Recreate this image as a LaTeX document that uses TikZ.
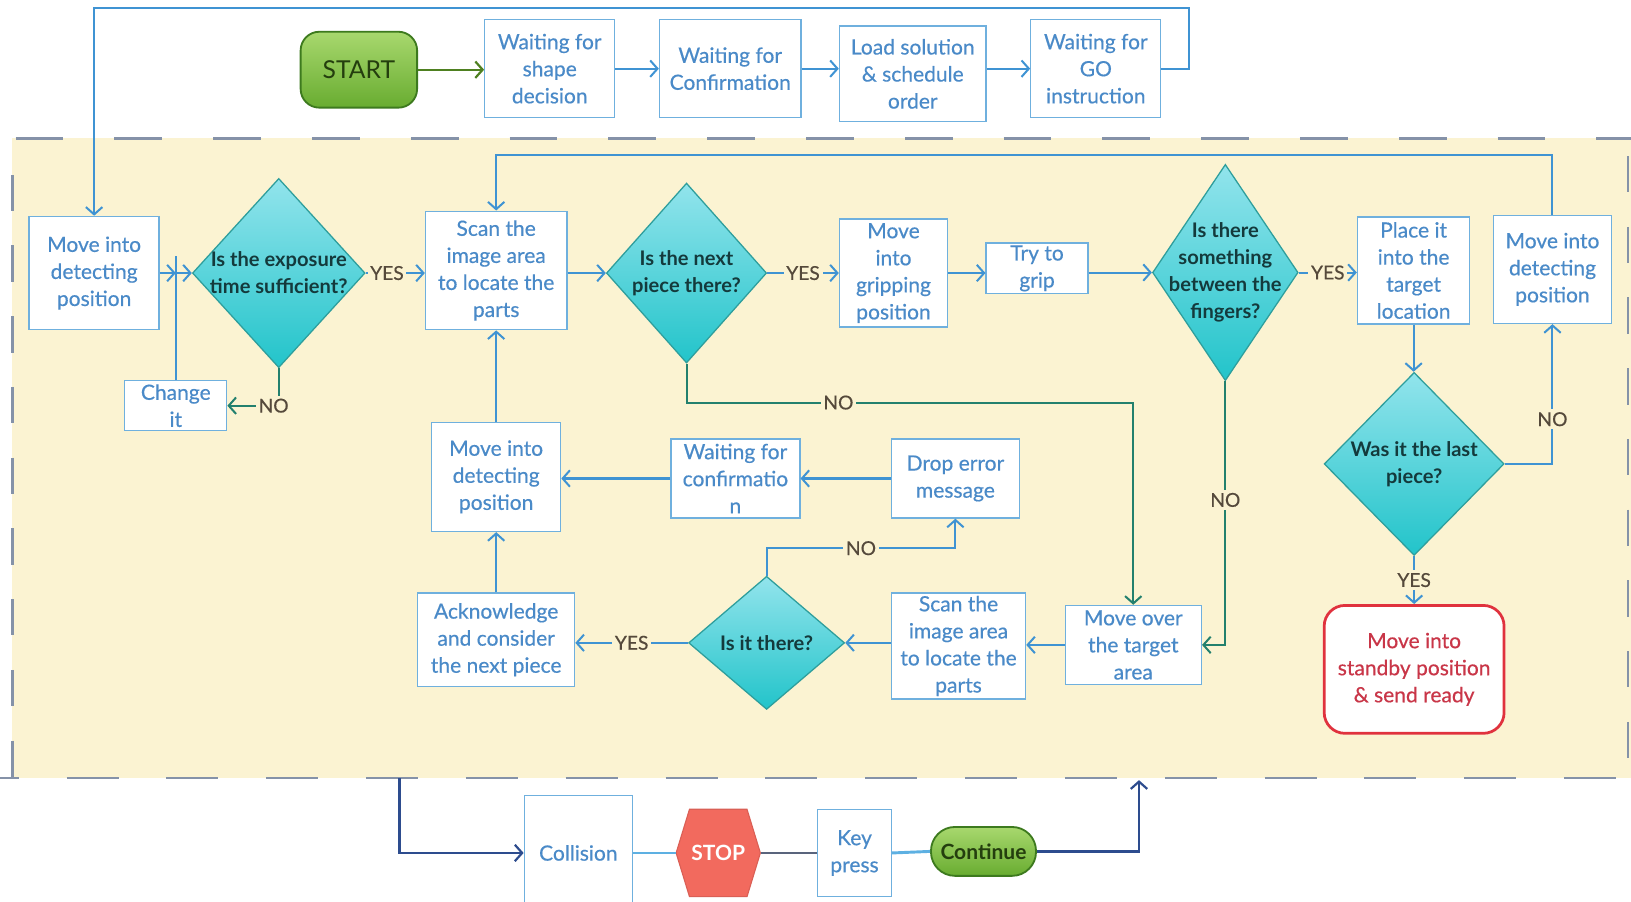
\documentclass[tikz,border=0pt]{standalone}
\usepackage{fontspec}
\setmainfont{Lato}
\newfontfamily\semifont{Lato}[FakeBold=0.45]
\usetikzlibrary{arrows.meta,shapes.geometric,shapes.symbols}
\definecolor{cream}{HTML}{FBF3D2}
\definecolor{boxbd}{HTML}{6FB0DE}
\definecolor{boxtxt}{HTML}{4A8AC8}
\definecolor{lineb}{HTML}{3F93D3}
\definecolor{lineg}{HTML}{23806E}
\definecolor{lines}{HTML}{4E8020}
\definecolor{navyc}{HTML}{2D4C8E}
\definecolor{dashc}{HTML}{8592A8}
\definecolor{diatop}{HTML}{92E4EC}
\definecolor{diabot}{HTML}{22C4CA}
\definecolor{diabd}{HTML}{2E9E9C}
\definecolor{diatxt}{HTML}{143A3C}
\definecolor{lbltxt}{HTML}{55493B}
\definecolor{gtop}{HTML}{A8D86E}
\definecolor{gbot}{HTML}{68AC30}
\definecolor{gbd}{HTML}{3D7A1E}
\definecolor{gtxt}{HTML}{243E0E}
\definecolor{stopc}{HTML}{F26A5E}
\definecolor{redb}{HTML}{E0323E}
\definecolor{redt}{HTML}{C93648}
\definecolor{lbluec}{HTML}{5DB0E2}
\definecolor{greyl}{HTML}{59647C}
\begin{document}
\begin{tikzpicture}[x=0.02cm,y=-0.02cm,
  box/.style={draw=boxbd, fill=white, text=boxtxt, align=center, inner sep=0pt, line width=0.7pt, font=\semifont\fontsize{11.5}{14.8}\selectfont},
  dia/.style={diamond, draw=diabd, line width=0.7pt, top color=diatop, bottom color=diabot, inner sep=0pt},
  diatext/.style={text=diatxt, align=center, font=\bfseries\fontsize{11}{14.8}\selectfont},
  lbl/.style={fill=cream, text=lbltxt, inner sep=1.5pt, font=\semifont\fontsize{10.5}{12}\selectfont},
  arr/.style={-{Straight Barb[length=4pt,width=9pt]}},
  lb/.style={draw=lineb, line width=1.1pt},
  lg/.style={draw=lineg, line width=1.1pt},
  ls/.style={draw=lines, line width=1.2pt},
  nv/.style={draw=navyc, line width=1.2pt},
  lbw/.style={draw=lbluec, line width=1.6pt},
  gr/.style={draw=greyl, line width=1.2pt},
  dsh/.style={draw=dashc, line width=1.4pt},
  greenpill/.style={draw=gbd, line width=1pt, top color=gtop, bottom color=gbot, text=gtxt, inner sep=0pt}
]
\useasboundingbox (0,0) rectangle (1568,867);
\clip (0,0) rectangle (1568,867);
\fill[white] (0,0) rectangle (1568,867);
\fill[cream] (12,133) rectangle (1568,748);
\draw[dsh, dash pattern=on 0.92cm off 0.98cm] (15,133) -- (1568,133);
\draw[dsh, dash pattern=on 1cm off 0.92cm] (-32,748) -- (1568,748);
\draw[dsh, dash pattern=on 0.7cm off 0.66cm] (12,168) -- (12,748);
\draw[dsh, dash pattern=on 0.7cm off 0.66cm] (1565,150) -- (1565,748);

% top row
\node[greenpill, rounded corners=0.36cm, minimum width=2.24cm, minimum height=1.46cm, font=\fontsize{13.5}{16}\selectfont] (start) at (345,67) {START};
\node[box, minimum width=2.5cm, minimum height=1.88cm] (wshape) at (528.5,66) {Waiting for\\shape\\decision};
\node[box, minimum width=2.72cm, minimum height=1.88cm] (wconf) at (702,66) {Waiting for\\Confirmation};
\node[box, minimum width=2.82cm, minimum height=1.84cm] (load) at (877.5,71) {Load solution\\\& schedule\\order};
\node[box, minimum width=2.5cm, minimum height=1.88cm] (wgo) at (1053.5,66) {Waiting for\\GO\\instruction};

% main row
\node[box, minimum width=2.5cm, minimum height=2.18cm] (md1) at (90.5,262.5) {Move into\\detecting\\position};
\node[dia, minimum width=3.32cm, minimum height=3.64cm, label={[diatext]center:{Is the exposure\\time sufficient?}}] (d1) at (268,262.5) {};
\node[box, minimum width=2.72cm, minimum height=2.28cm] (scan1) at (477,260) {Scan the\\image area\\to locate the\\parts};
\node[dia, minimum width=3.08cm, minimum height=3.46cm, label={[diatext]center:{Is the next\\piece there?}}] (d2) at (660,262.5) {};
\node[box, minimum width=2.08cm, minimum height=2.08cm] (grip) at (859,262.5) {Move\\into\\gripping\\position};
\node[box, minimum width=1.96cm, minimum height=0.98cm] (try) at (997,258) {Try to\\grip};
\node[dia, minimum width=2.8cm, minimum height=4.16cm, label={[diatext]center:{Is there\\something\\between the\\fingers?}}] (d3) at (1178,262) {};
\node[box, minimum width=2.16cm, minimum height=2.06cm] (place) at (1359,260) {Place it\\into the\\target\\location};
\node[box, minimum width=2.26cm, minimum height=2.08cm] (md2) at (1492.5,259) {Move into\\detecting\\position};
\node[dia, minimum width=3.46cm, minimum height=3.52cm, label={[diatext]center:{Was it the last\\piece?}}] (d4) at (1359.5,446) {};
\node[draw=redb, line width=1.5pt, fill=white, rounded corners=0.4cm, text=redt, align=center, inner sep=0pt, font=\semifont\fontsize{11.5}{14.8}\selectfont, minimum width=3.46cm, minimum height=2.46cm] (standby) at (1359.5,643.5) {Move into\\standby position\\\& send ready};

% lower left / middle
\node[box, minimum width=1.96cm, minimum height=0.96cm] (change) at (169,390) {Change\\it};
\node[box, minimum width=2.48cm, minimum height=2.1cm] (md3) at (477,458.5) {Move into\\detecting\\position};
\node[box, minimum width=2.48cm, minimum height=1.52cm] (wconf2) at (707,460) {Waiting for\\confirmatio\\n};
\node[box, minimum width=2.46cm, minimum height=1.52cm] (drop) at (918.5,460) {Drop error\\message};
\node[box, minimum width=3.02cm, minimum height=1.8cm] (ack) at (477,615) {Acknowledge\\and consider\\the next piece};
\node[dia, minimum width=3.0cm, minimum height=2.56cm, label={[diatext]center:{Is it there?}}] (d5) at (737,618) {};
\node[box, minimum width=2.58cm, minimum height=2.04cm] (scan2) at (921.5,621) {Scan the\\image area\\to locate the\\parts};
\node[box, minimum width=2.62cm, minimum height=1.52cm] (moveover) at (1089.5,620) {Move over\\the target\\area};

% bottom
\node[box, minimum width=2.08cm, minimum height=2.2cm] (collision) at (556,820) {Collision};
\node[signal, signal to=east and west, signal pointer angle=146, fill=stopc, draw=stopc!90!black, line width=0.6pt, text=white, inner sep=0pt, font=\bfseries\fontsize{11.5}{14}\selectfont, minimum width=1.62cm, minimum height=1.68cm] (stop) at (690.5,820) {STOP};
\node[box, minimum width=1.42cm, minimum height=1.68cm] (keypress) at (821.5,820) {Key\\press};
\node[greenpill, rounded corners=0.46cm, minimum width=2.02cm, minimum height=0.94cm, font=\bfseries\fontsize{11.5}{14}\selectfont] (contn) at (945.5,818.5) {Continue};

% coordinates
\coordinate (tl) at (1143,8);
\coordinate (tl2) at (0,149);
\coordinate (jt) at (169,246);
\coordinate (jn) at (169,262.5);
\coordinate (n2) at (0,387);
\coordinate (n5) at (0,527);
\coordinate (c1) at (384,748);
\coordinate (c2) at (1095,750);

% top connectors
\draw[ls, arr] (start.east) -- (start.east -| wshape.west);
\draw[lb, arr] (wshape.east) -- (wshape.east -| wconf.west);
\draw[lb, arr] (wconf.east) -- (wconf.east -| load.west);
\draw[lb, arr] (load.east |- wgo.west) -- (wgo.west);
\draw[lb, arr] (wgo.east) -| (tl) -| (md1.north);

% main row connectors
\draw[lb, arr] (md1.east) -- (jn);
\draw[lb, arr] (jn) -- (d1.west);
\draw[lb] (change.north) -- (change.north |- jt);
\draw[lb, arr] (d1.east) -- node[lbl, pos=0.36]{YES} (d1.east -| scan1.west);
\draw[lb, arr] (scan1.east |- d2.west) -- (d2.west);
\draw[lb, arr] (d2.east) -- node[lbl]{YES} (d2.east -| grip.west);
\draw[lb, arr] (grip.east) -- (grip.east -| try.west);
\draw[lb, arr] (try.east |- d3.west) -- (d3.west);
\draw[lb, arr] (d3.east) -- node[lbl]{YES} (d3.east -| place.west);
\draw[lb, arr] (place.south) -- (place.south |- d4.north);
\draw[lb, arr] (d4.east) -| node[lbl, pos=0.66]{NO} (md2.south);
\draw[lb, arr] (md2.north) -- (md2.north |- tl2) -| (scan1.north);
\draw[lb, arr] (d4.south) -- node[lbl]{YES} (standby.north);

% NO paths
\draw[lg, arr] (d1.south) |- node[lbl, pos=0.55]{NO} (change.east);
\draw[lg, arr] (d2.south) -- (d2.south |- n2) -| node[lbl, pos=0.17]{NO} (moveover.north);
\draw[lg, arr] (d3.south) |- node[lbl, pos=0.225]{NO} (moveover.east);

% middle connectors
\draw[lb, arr] (md3.north) -- (scan1.south);
\draw[lb, arr] (wconf2.west) -- (wconf2.west -| md3.east);
\draw[lb, arr] (drop.west) -- (drop.west -| wconf2.east);
\draw[lb, arr] (ack.north) -- (md3.south);
\draw[lb, arr] (moveover.west) -- (moveover.west -| scan2.east);
\draw[lb, arr] (scan2.west |- d5.east) -- (d5.east);
\draw[lb, arr] (d5.west) -- node[lbl]{YES} (d5.west -| ack.east);
\draw[lb, arr] (d5.north) -- (d5.north |- n5) -| node[lbl, pos=0.25]{NO} (drop.south);

% bottom connectors
\draw[nv, arr] (c1) |- (collision.west);
\draw[lbw] (collision.east) -- (stop.west);
\draw[gr] (stop.east) -- (keypress.west);
\draw[lbw] (keypress.east) -- (contn.west);
\draw[nv, arr] (contn.east) -| (c2);
\end{tikzpicture}
\end{document}
